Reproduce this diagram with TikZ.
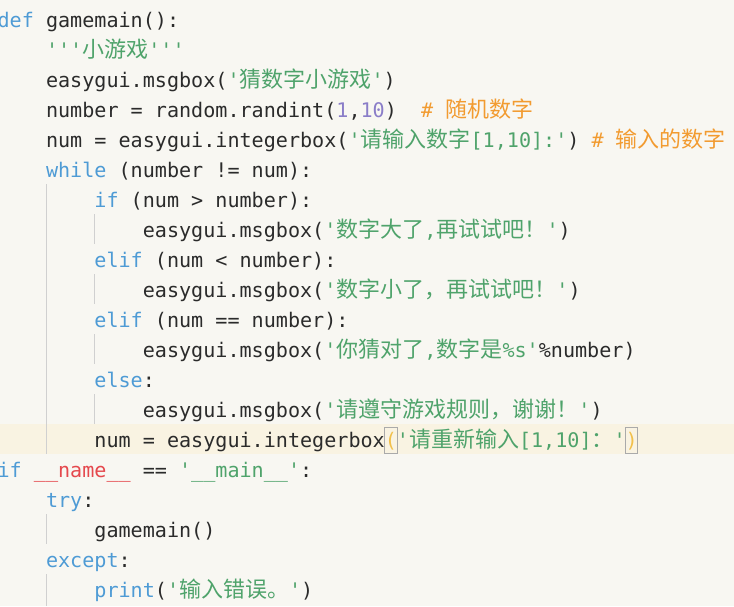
\documentclass[tikz,border=0pt]{standalone}
\usepackage{fontspec}
\setmonofont{DejaVu Sans Mono}
\newfontfamily\cjkfont{Noto Sans CJK SC}
\definecolor{bgc}{HTML}{F8F7F2}
\definecolor{hlc}{HTML}{F9F3E2}
\definecolor{txt}{HTML}{2B2B2B}
\definecolor{kwc}{HTML}{4E9BD5}
\definecolor{strc}{HTML}{4FA36B}
\definecolor{numc}{HTML}{8A7DC8}
\definecolor{comc}{HTML}{F29B30}
\definecolor{redc}{HTML}{E5484D}
\definecolor{parc}{HTML}{F2C04B}
\definecolor{guidec}{HTML}{D0D0D0}
\definecolor{boxc}{HTML}{AAAAAA}
\newcommand\zh[1]{{\cjkfont\fontsize{22pt}{22pt}\selectfont #1}}
\newcommand\ckw[1]{\textcolor{kwc}{#1}}
\newcommand\cstr[1]{\textcolor{strc}{#1}}
\newcommand\cnum[1]{\textcolor{numc}{#1}}
\newcommand\ccom[1]{\textcolor{comc}{#1}}
\newcommand\cred[1]{\textcolor{redc}{#1}}
\begin{document}
\begin{tikzpicture}[x=1pt,y=-1pt,
  code/.style={anchor=base west, inner sep=0pt, outer sep=0pt, text=txt,
    font=\ttfamily\fontsize{20.1pt}{24pt}\selectfont},
  guide/.style={draw=guidec, line width=1pt},
  brbox/.style={draw=boxc, line width=0.8pt}]
\useasboundingbox (0,0) rectangle (734,606);
\fill[bgc] (0,0) rectangle (734,606);
\fill[hlc] (0,424) rectangle (734,454);
% indent guides
\draw[guide] (46,184) -- (46,454);
\draw[guide] (94.4,214) -- (94.4,244);
\draw[guide] (94.4,274) -- (94.4,304);
\draw[guide] (94.4,334) -- (94.4,364);
\draw[guide] (94.4,394) -- (94.4,424);
\draw[guide] (46,514) -- (46,544);
\draw[guide] (46,574) -- (46,606);
% code lines
\node[code] (l1) at (-2.4,27) {\ckw{def} gamemain():};
\node[code] (l2) at (46,57) {\cstr{'''\zh{小游戏}'''}};
\node[code] (l3) at (46,87) {easygui.msgbox(\cstr{'\zh{猜数字小游戏}'})};
\node[code] (l4) at (46,117) {number = random.randint(\cnum{1},\cnum{10})\ \ \ccom{\#\ \zh{随机数字}}};
\node[code] (l5) at (46,147) {num = easygui.integerbox(\cstr{'\zh{请输入数字}[1,10]:'})\ \ccom{\#\ \zh{输入的数字}}};
\node[code] (l6) at (46,177) {\ckw{while} (number != num):};
\node[code] (l7) at (94.4,207) {\ckw{if} (num > number):};
\node[code] (l8) at (142.8,237) {easygui.msgbox(\cstr{'\zh{数字大了},\zh{再试试吧！}'})};
\node[code] (l9) at (94.4,267) {\ckw{elif} (num < number):};
\node[code] (l10) at (142.8,297) {easygui.msgbox(\cstr{'\zh{数字小了，再试试吧！}'})};
\node[code] (l11) at (94.4,327) {\ckw{elif} (num == number):};
\node[code] (l12) at (142.8,357) {easygui.msgbox(\cstr{'\zh{你猜对了},\zh{数字是}\%s'}\%number)};
\node[code] (l13) at (94.4,387) {\ckw{else}:};
\node[code] (l14) at (142.8,417) {easygui.msgbox(\cstr{'\zh{请遵守游戏规则，谢谢！}'})};
\node[code] (l15) at (94.4,447) {num = easygui.integerbox};
\node[code, text=parc] (pl) at (l15.base east) {(};
\node[code] (l15s) at (pl.base east) {\cstr{'\zh{请重新输入}[1,10]\zh{：}'}};
\node[code, text=parc] (pr) at (l15s.base east) {)};
\draw[brbox] (pl.west |- 0,427) rectangle (pl.east |- 0,453);
\draw[brbox] (pr.west |- 0,427) rectangle (pr.east |- 0,453);
\node[code] (l16) at (-2.4,477) {\ckw{if} \cred{\_\_name\_\_} == \cstr{'\_\_main\_\_'}:};
\node[code] (l17) at (46,507) {\ckw{try}:};
\node[code] (l18) at (94.4,537) {gamemain()};
\node[code] (l19) at (46,567) {\ckw{except}:};
\node[code] (l20) at (94.4,597) {\ckw{print}(\cstr{'\zh{输入错误。}'})};
\end{tikzpicture}
\end{document}
